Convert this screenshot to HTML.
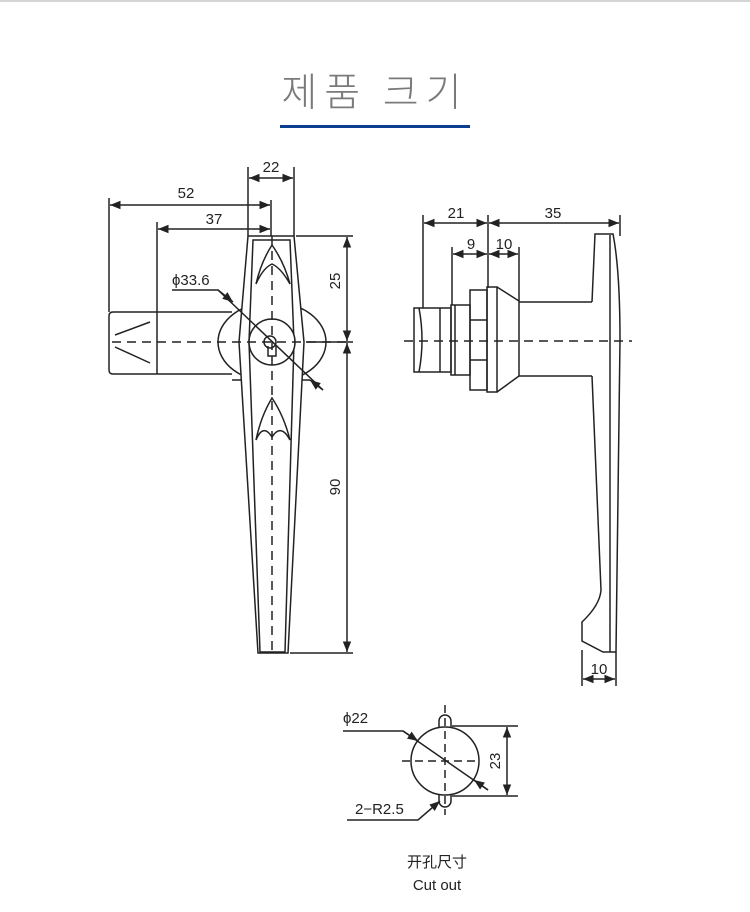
<!DOCTYPE html>
<html><head><meta charset="utf-8"><style>
html,body{margin:0;padding:0;background:#fff;}
body{width:750px;height:912px;position:relative;overflow:hidden;}
.top{position:absolute;left:0;top:0;width:750px;height:2px;background:#d4d4d4;}
.title{position:absolute;left:0;top:62px;width:750px;text-align:center;font:300 39px "Noto Sans CJK KR","NanumGothic",sans-serif;color:#7a7a7a;letter-spacing:7px;}
.ul{position:absolute;left:280px;top:125px;width:190px;height:3px;background:#0b3e8e;}
svg{position:absolute;left:0;top:0;}
text{font-family:"Liberation Sans","Noto Sans CJK SC",sans-serif;fill:#222;}
</style></head><body>
<div class="top"></div>
<div class="title">제품 크기</div>
<div class="ul"></div>
<svg width="750" height="912" viewBox="0 0 750 912">
<defs>
<marker id="a" viewBox="0 0 10 10" refX="10" refY="5" markerWidth="7" markerHeight="7" orient="auto-start-reverse"><path d="M0,1 L10,5 L0,9 z" fill="#222"/></marker>
</defs>
<g stroke="#222" stroke-width="1.5" fill="none">
<line x1="248" y1="167" x2="248" y2="236"/>
<line x1="294" y1="167" x2="294" y2="236"/>
<line x1="271" y1="200" x2="271" y2="236"/>
<line x1="109" y1="198" x2="109" y2="312"/>
<line x1="157" y1="222" x2="157" y2="312"/>
<line x1="249" y1="178" x2="293" y2="178" marker-start="url(#a)" marker-end="url(#a)"/>
<line x1="110" y1="205" x2="270" y2="205" marker-start="url(#a)" marker-end="url(#a)"/>
<line x1="158" y1="229" x2="270" y2="229" marker-start="url(#a)" marker-end="url(#a)"/>
<path d="M232,312 L113,312 Q109,312 109,316 L109,370 Q109,374 113,374 L232,374"/>
<line x1="157" y1="312" x2="157" y2="374"/>
<line x1="115" y1="335" x2="150" y2="322"/>
<line x1="115" y1="347" x2="150" y2="363"/>
<ellipse cx="272" cy="342" rx="54" ry="40" fill="#fff"/>
<line x1="232" y1="380" x2="310" y2="380"/>
<path d="M248,236 L294,236 L304,342 L288,653 L258,653 L239,342 Z" fill="#fff"/>
<path d="M253,240 L290,240 L294,342 L285,652 L260,652 L249,342 Z"/>
<path d="M272,245 Q261,262 256,284 Q263,268 272,264 Q281,268 290,284 Q284,262 272,245 Z"/>
<path d="M272,398 Q261,416 256,440 Q263,423 272,437 Q281,423 290,440 Q284,416 272,398 Z"/>
<circle cx="272" cy="342" r="23" fill="#fff"/>
<circle cx="270" cy="342" r="6"/>
<path d="M268,346 L268,356 L276,356 L276,346"/>
<path d="M172,290 L218,290 L323,390"/>
<line x1="218" y1="290" x2="233" y2="302" marker-end="url(#a)"/>
<line x1="323" y1="390" x2="310" y2="380" marker-end="url(#a)"/>
<line x1="296" y1="236" x2="353" y2="236"/>
<line x1="306" y1="342" x2="353" y2="342"/>
<line x1="290" y1="653" x2="353" y2="653"/>
<line x1="347" y1="237" x2="347" y2="341" marker-start="url(#a)" marker-end="url(#a)"/>
<line x1="347" y1="343" x2="347" y2="652" marker-start="url(#a)" marker-end="url(#a)"/>
<line x1="112" y1="342" x2="352" y2="342" stroke-dasharray="9,6"/>
<line x1="272" y1="236" x2="272" y2="653" stroke-dasharray="9,6"/>

<line x1="423" y1="215" x2="423" y2="308"/>
<line x1="452" y1="247" x2="452" y2="305"/>
<line x1="488" y1="215" x2="488" y2="288"/>
<line x1="519" y1="247" x2="519" y2="301"/>
<line x1="620" y1="215" x2="620" y2="236"/>
<line x1="424" y1="223" x2="487" y2="223" marker-start="url(#a)" marker-end="url(#a)"/>
<line x1="489" y1="223" x2="619" y2="223" marker-start="url(#a)" marker-end="url(#a)"/>
<line x1="453" y1="254" x2="487" y2="254" marker-start="url(#a)" marker-end="url(#a)"/>
<line x1="489" y1="254" x2="518" y2="254" marker-start="url(#a)" marker-end="url(#a)"/>
<rect x="414" y="308" width="37" height="64"/>
<line x1="440" y1="308" x2="440" y2="372"/>
<path d="M419,308 Q425,340 419,372"/>
<rect x="451" y="305" width="19" height="70"/>
<line x1="455" y1="305" x2="455" y2="375"/>
<rect x="470" y="290" width="17" height="100"/>
<line x1="470" y1="320" x2="487" y2="320"/>
<line x1="470" y1="360" x2="487" y2="360"/>
<rect x="487" y="287" width="10" height="105"/>
<path d="M497,287 L519,301 L519,376 L497,392"/>
<path d="M519,302 L592,302 M519,376 L592,376"/>
<path d="M592,302 L595,234 L613,234 Q620,270 620,340 L616,652 L603,652 L582,641 L582,622 Q600,605 601,590 L592,376"/>
<line x1="610" y1="235" x2="610" y2="652"/>
<line x1="582" y1="650" x2="582" y2="686"/>
<line x1="616" y1="652" x2="616" y2="686"/>
<line x1="583" y1="679" x2="615" y2="679" marker-start="url(#a)" marker-end="url(#a)"/>
<line x1="404" y1="341" x2="632" y2="341" stroke-dasharray="9,6"/>

<path d="M439,727 L439,721 A6,6 0 0 1 451,721 L451,727"/>
<path d="M439,795 L439,801 A6,6 0 0 0 451,801 L451,795"/>
<circle cx="445" cy="761" r="34" fill="none"/>
<line x1="452" y1="726" x2="518" y2="726"/>
<line x1="452" y1="796" x2="518" y2="796"/>
<line x1="507" y1="727" x2="507" y2="795" marker-start="url(#a)" marker-end="url(#a)"/>
<line x1="402" y1="761" x2="478" y2="761" stroke-dasharray="8,5"/>
<line x1="445" y1="705" x2="445" y2="815" stroke-dasharray="8,5"/>
<path d="M343,731 L403,731 L488,790"/>
<line x1="403" y1="731" x2="418" y2="741" marker-end="url(#a)"/>
<line x1="488" y1="790" x2="474" y2="780" marker-end="url(#a)"/>
<path d="M347,820 L418,820 L440,801" marker-end="url(#a)"/>
</g>
<g font-size="15">
<text x="271" y="172" text-anchor="middle">22</text>
<text x="186" y="198" text-anchor="middle">52</text>
<text x="214" y="224" text-anchor="middle">37</text>
<text x="172" y="285">ϕ33.6</text>
<text transform="translate(340,281) rotate(-90)" text-anchor="middle">25</text>
<text transform="translate(340,487) rotate(-90)" text-anchor="middle">90</text>
<text x="456" y="218" text-anchor="middle">21</text>
<text x="553" y="218" text-anchor="middle">35</text>
<text x="471" y="249" text-anchor="middle">9</text>
<text x="504" y="249" text-anchor="middle">10</text>
<text x="599" y="674" text-anchor="middle">10</text>
<text x="343" y="723">ϕ22</text>
<text x="355" y="814">2−R2.5</text>
<text transform="translate(500,761) rotate(-90)" text-anchor="middle">23</text>
<text x="437" y="867" text-anchor="middle">开孔尺寸</text>
<text x="437" y="890" text-anchor="middle">Cut out</text>
</g>
</svg>
</body></html>
